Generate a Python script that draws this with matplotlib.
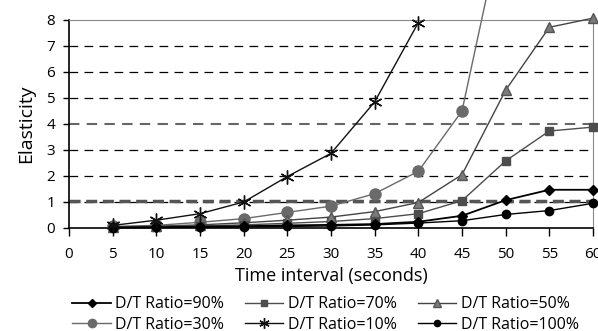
import numpy as np
import matplotlib.pyplot as plt

plt.rcParams['font.family'] = ['Open Sans', 'DejaVu Sans']

# Time interval (seconds)
t = [5, 10, 15, 20, 25, 30, 35, 40, 45, 50, 55, 60]

# Elasticity per D/T ratio
r90 = [0.02, 0.03, 0.05, 0.07, 0.10, 0.12, 0.15, 0.24, 0.47, 1.07, 1.47, 1.47]
r70 = [0.03, 0.05, 0.08, 0.12, 0.18, 0.25, 0.36, 0.55, 1.05, 2.58, 3.73, 3.88]
r50 = [0.04, 0.07, 0.12, 0.20, 0.30, 0.42, 0.63, 0.98, 2.05, 5.30, 7.72, 8.07]
r30 = [0.06, 0.10, 0.22, 0.36, 0.60, 0.84, 1.32, 2.18, 4.50, 12.3]
r10 = [0.10, 0.30, 0.55, 1.00, 1.98, 2.87, 4.85, 7.90]
r100 = [0.01, 0.02, 0.03, 0.04, 0.06, 0.08, 0.12, 0.19, 0.28, 0.52, 0.67, 0.95]

threshold = 1.05

fig = plt.figure(figsize=(5.98, 3.31), dpi=100)
ax = fig.add_axes([0.1154, 0.3112, 0.8762, 0.6284])

# grid lines
for y in [1, 2, 3, 5, 6, 7]:
    ax.axhline(y, color='black', lw=0.9, ls=(0, (7, 5)), zorder=1)
ax.axhline(4, color='#666666', lw=1.5, ls=(0, (5, 3.5)), zorder=1)
ax.axhline(threshold, color='#555555', lw=2.5, ls=(0, (3.2, 1.6)), zorder=1)

h90, = ax.plot(t, r90, color='black', marker='D', ms=5, lw=1.3, label='D/T Ratio=90%', clip_on=False, zorder=5)
h70, = ax.plot(t, r70, color='#4d4d4d', marker='s', ms=6, lw=1.0, label='D/T Ratio=70%', clip_on=False, zorder=4)
h50, = ax.plot(t, r50, color='#444444', mfc='#7a7a7a', mec='#555555', marker='^', ms=7, lw=1.0,
               label='D/T Ratio=50%', clip_on=False, zorder=4)
h30, = ax.plot(t[:len(r30)], r30, color='#6a6a6a', marker='o', ms=8, lw=1.0, label='D/T Ratio=30%',
               clip_on=False, zorder=3)
h10, = ax.plot(t[:len(r10)], r10, color='#111111', marker=(6, 2, 0), ms=10, mew=1.0, lw=1.0,
               label='D/T Ratio=10%', clip_on=False, zorder=6)
h100, = ax.plot(t, r100, color='black', marker='o', ms=6, lw=1.0, label='D/T Ratio=100%', clip_on=False, zorder=5)

ax.set_xlim(0, 60)
ax.set_ylim(0, 8)
ax.set_xticks(range(0, 61, 5))
ax.set_yticks(range(0, 9))
ax.tick_params(axis='both', labelsize=11, direction='out', width=1)
ax.tick_params(axis='x', length=6, pad=8)
ax.tick_params(axis='y', length=4, pad=6)

ax.spines['top'].set_color('#888888')
ax.spines['right'].set_color('#888888')
ax.spines['left'].set_linewidth(1.2)
ax.spines['bottom'].set_linewidth(1.2)

ax.set_xlabel('Time interval (seconds)', fontsize=13, labelpad=3)
ax.set_ylabel('Elasticity', fontsize=14, labelpad=8)

handles = [h90, h30, h70, h10, h50, h100]
fig.legend(handles=handles, labels=[h.get_label() for h in handles], ncol=3, loc='upper left',
           bbox_to_anchor=(0.121, 0.105), frameon=False, fontsize=11.5, handlelength=2.4,
           handletextpad=0.3, columnspacing=1.3, labelspacing=0.3, borderpad=0, borderaxespad=0,
           markerscale=0.75)

fig.savefig('out.png', dpi=100)
